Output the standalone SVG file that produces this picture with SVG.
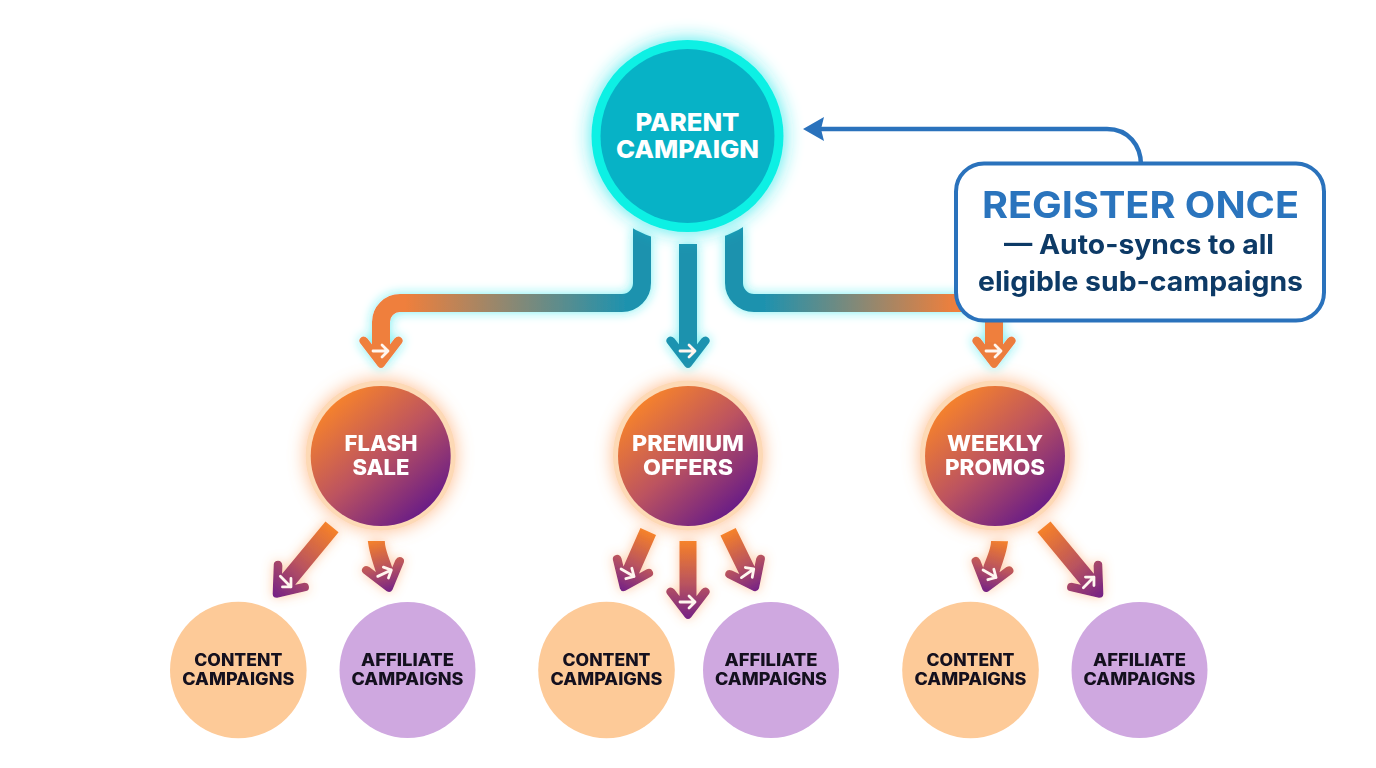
<svg xmlns="http://www.w3.org/2000/svg" xmlns:xlink="http://www.w3.org/1999/xlink" width="1376" height="768" viewBox="0 0 1376 768">
<defs>
<style>
text{font-family:"Inter","Liberation Sans",sans-serif;font-weight:800;text-anchor:middle}
.w{fill:#fff}.k{fill:#14101e}
.p{font-size:25px}.s{font-size:22px}.l{font-size:17px}
.c{font-weight:700}.n{fill:#0d3a66;font-size:27px}
.sh{fill:none;stroke-width:18}
.g{fill:none;stroke:#fff6ef;stroke-width:2.8;stroke-linecap:round;stroke-linejoin:round}
.low{fill:url(#low)}
.o{fill:#fdca98}.v{fill:#cfa8e0}
</style>
<linearGradient id="low" x1="0" y1="0" x2="0" y2="1"><stop offset="0" stop-color="#f68128"/><stop offset=".55" stop-color="#b9535f"/><stop offset="1" stop-color="#742186"/></linearGradient>
<linearGradient id="sub" x1=".15" y1=".1" x2=".85" y2=".9"><stop offset="0" stop-color="#f8842a"/><stop offset=".5" stop-color="#bc5360"/><stop offset="1" stop-color="#661a88"/></linearGradient>
<linearGradient id="gl" gradientUnits="userSpaceOnUse" x1="405" y1="0" x2="625" y2="0"><stop offset="0" stop-color="#ef7f3c"/><stop offset="1" stop-color="#1f92ae"/></linearGradient>
<linearGradient id="gr" gradientUnits="userSpaceOnUse" x1="765" y1="0" x2="955" y2="0"><stop offset="0" stop-color="#1f92ae"/><stop offset="1" stop-color="#ef7f3c"/></linearGradient>
<clipPath id="cut"><path clip-rule="evenodd" d="M0,0H1376V768H0Z M580,136a107,107 0 1,0 214,0a107,107 0 1,0 -214,0Z"/></clipPath>
<filter id="cy" filterUnits="userSpaceOnUse" x="0" y="0" width="1376" height="768"><feGaussianBlur in="SourceAlpha" stdDeviation="6"/><feComponentTransfer result="b"><feFuncA type="linear" slope=".62"/></feComponentTransfer><feFlood flood-color="#22e6ea"/><feComposite in2="b" operator="in"/><feMerge><feMergeNode/><feMergeNode in="SourceGraphic"/></feMerge></filter>
<filter id="cy2" filterUnits="userSpaceOnUse" x="0" y="0" width="1376" height="768"><feGaussianBlur in="SourceAlpha" stdDeviation="10"/><feComponentTransfer result="b"><feFuncA type="linear" slope=".85"/></feComponentTransfer><feFlood flood-color="#22e6ea"/><feComposite in2="b" operator="in"/><feMerge><feMergeNode/><feMergeNode in="SourceGraphic"/></feMerge></filter>
<filter id="or" filterUnits="userSpaceOnUse" x="0" y="0" width="1376" height="768"><feGaussianBlur in="SourceAlpha" stdDeviation="6"/><feComponentTransfer result="b"><feFuncA type="linear" slope=".5"/></feComponentTransfer><feFlood flood-color="#ff9a50"/><feComposite in2="b" operator="in"/><feMerge><feMergeNode/><feMergeNode in="SourceGraphic"/></feMerge></filter>
<filter id="or2" filterUnits="userSpaceOnUse" x="0" y="0" width="1376" height="768"><feGaussianBlur in="SourceAlpha" stdDeviation="9"/><feComponentTransfer result="b"><feFuncA type="linear" slope=".75"/></feComponentTransfer><feFlood flood-color="#ffa566"/><feComposite in2="b" operator="in"/><feMerge><feMergeNode/><feMergeNode in="SourceGraphic"/></feMerge></filter>
<path id="head" d="M-8.5,-26H8.5V-23L13.500,-29.500Q17,-33 20,-30.500Q23,-28 21,-25L3,-1.500Q0,1.500 -3,-1.500L-21,-25Q-23,-28 -20,-30.500Q-17,-33 -13.500,-29.500L-8.5,-23Z"/>
<path id="gly" d="M-8,0H7M1,-6L7,0L1,6"/>
</defs>
<rect width="1376" height="768" fill="#fff"/>
<g id="connectors">
<g filter="url(#cy)">
<g clip-path="url(#cut)">
<path class="sh" stroke="url(#gl)" d="M642,220V283A20,20 0 0 1 622,303H400A19,19 0 0 0 381,322V345"/>
<path class="sh" stroke="url(#gr)" d="M734,220V283A20,20 0 0 0 754,303H975A19,19 0 0 1 994,322V345"/>
</g>
<path class="sh" stroke="#1f92ae" d="M688,244V345"/>
<use xlink:href="#head" href="#head" fill="#ef7f3c" transform="translate(381,368)"/>
<use xlink:href="#head" href="#head" fill="#1f93b0" transform="translate(688,368)"/>
<use xlink:href="#head" href="#head" fill="#ec7d3c" transform="translate(994,368)"/>
</g>
<use class="g" xlink:href="#gly" href="#gly" transform="translate(381,351)"/>
<use class="g" xlink:href="#gly" href="#gly" transform="translate(688,351)"/>
<use class="g" xlink:href="#gly" href="#gly" transform="translate(994,351)"/>
<g filter="url(#or)">
<path class="low" transform="translate(274,597) rotate(39.6)" d="M-8.5,-91H8.5V-23L13.500,-29.500Q17,-33 20,-30.500Q23,-28 21,-25L3,-1.500Q0,1.500 -3,-1.500L-21,-25Q-23,-28 -20,-30.500Q-17,-33 -13.500,-29.500L-8.5,-23Z"/>
<path class="low" transform="translate(390,592) rotate(-15)" d="M-8.2,-55.1L8.2,-50.7C6,-42 8.5,-30 8.5,-23L13.500,-29.500Q17,-33 20,-30.500Q23,-28 21,-25L3,-1.500Q0,1.500 -3,-1.500L-21,-25Q-23,-28 -20,-30.500Q-17,-33 -13.500,-29.500L-8.5,-23C-8.5,-30 -10,-42 -8.2,-55.1Z"/>
<path class="low" transform="translate(622,591) rotate(23.8)" d="M-8.5,-65H8.5V-23L13.500,-29.500Q17,-33 20,-30.500Q23,-28 21,-25L3,-1.500Q0,1.500 -3,-1.500L-21,-25Q-23,-28 -20,-30.500Q-17,-33 -13.500,-29.500L-8.5,-23Z"/>
<path class="low" transform="translate(688,619)" d="M-8.5,-78H8.5V-23L13.500,-29.500Q17,-33 20,-30.500Q23,-28 21,-25L3,-1.500Q0,1.500 -3,-1.500L-21,-25Q-23,-28 -20,-30.500Q-17,-33 -13.500,-29.500L-8.5,-23Z"/>
<path class="low" transform="translate(757,591) rotate(-26)" d="M-8.5,-66H8.5V-23L13.500,-29.500Q17,-33 20,-30.500Q23,-28 21,-25L3,-1.500Q0,1.500 -3,-1.500L-21,-25Q-23,-28 -20,-30.500Q-17,-33 -13.500,-29.500L-8.5,-23Z"/>
<path class="low" transform="translate(985,592) rotate(16)" d="M-8.2,-50.7L8.2,-55.1C10,-42 8.5,-30 8.5,-23L13.500,-29.500Q17,-33 20,-30.500Q23,-28 21,-25L3,-1.500Q0,1.500 -3,-1.500L-21,-25Q-23,-28 -20,-30.500Q-17,-33 -13.500,-29.500L-8.5,-23C-8.5,-30 -6,-42 -8.2,-50.7Z"/>
<path class="low" transform="translate(1102,597) rotate(-39.6)" d="M-8.5,-91H8.5V-23L13.500,-29.500Q17,-33 20,-30.500Q23,-28 21,-25L3,-1.500Q0,1.500 -3,-1.500L-21,-25Q-23,-28 -20,-30.500Q-17,-33 -13.500,-29.500L-8.5,-23Z"/>
</g>
<use class="g" xlink:href="#gly" href="#gly" transform="translate(286,582) rotate(45)"/>
<use class="g" xlink:href="#gly" href="#gly" transform="translate(385,573) rotate(-25)"/>
<use class="g" xlink:href="#gly" href="#gly" transform="translate(628,573) rotate(30)"/>
<use class="g" xlink:href="#gly" href="#gly" transform="translate(688,602)"/>
<use class="g" xlink:href="#gly" href="#gly" transform="translate(748,573) rotate(-35)"/>
<use class="g" xlink:href="#gly" href="#gly" transform="translate(990,574) rotate(30)"/>
<use class="g" xlink:href="#gly" href="#gly" transform="translate(1089,582) rotate(-45)"/>
<path fill="none" stroke="#2a72bc" stroke-width="4.500" d="M1141,165C1141,145 1128,129 1107,129H820"/>
<path fill="#2a72bc" d="M803,129L824,117L821,129L824,141Z"/>
</g>
<g id="parent-campaign">
<circle cx="687.5" cy="136" r="96" fill="#10f0e4" filter="url(#cy2)"/>
<circle cx="687.5" cy="136" r="87" fill="#07b2c6"/>
<text class="w p" x="687.5" y="131" textLength="104" lengthAdjust="spacingAndGlyphs">PARENT</text>
<text class="w p" x="687.5" y="158" textLength="143" lengthAdjust="spacingAndGlyphs">CAMPAIGN</text>
</g>
<g id="flash-sale">
<circle cx="380.7" cy="455.5" r="75" fill="#fdd9b5" filter="url(#or2)"/>
<circle cx="380.7" cy="456" r="70" fill="url(#sub)"/>
<text class="w s" x="381" y="451" textLength="73" lengthAdjust="spacingAndGlyphs">FLASH</text>
<text class="w s" x="381" y="475" textLength="57" lengthAdjust="spacingAndGlyphs">SALE</text>
</g>
<g id="premium-offers">
<circle cx="688" cy="455.5" r="75" fill="#fdd9b5" filter="url(#or2)"/>
<circle cx="688" cy="456" r="70" fill="url(#sub)"/>
<text class="w s" x="688" y="451" textLength="112" lengthAdjust="spacingAndGlyphs">PREMIUM</text>
<text class="w s" x="688" y="475" textLength="90" lengthAdjust="spacingAndGlyphs">OFFERS</text>
</g>
<g id="weekly-promos">
<circle cx="995" cy="455.5" r="75" fill="#fdd9b5" filter="url(#or2)"/>
<circle cx="995" cy="456" r="70" fill="url(#sub)"/>
<text class="w s" x="995" y="451" textLength="96" lengthAdjust="spacingAndGlyphs">WEEKLY</text>
<text class="w s" x="995" y="475" textLength="100" lengthAdjust="spacingAndGlyphs">PROMOS</text>
</g>
<g id="content-1"><circle class="o" cx="238.3" cy="670" r="68.3"/><text class="k l" x="238.3" y="666" textLength="88" lengthAdjust="spacingAndGlyphs">CONTENT</text><text class="k l" x="238.3" y="685" textLength="112" lengthAdjust="spacingAndGlyphs">CAMPAIGNS</text></g>
<g id="affiliate-1"><circle class="v" cx="407.5" cy="670" r="68"/><text class="k l" x="407.5" y="666" textLength="93" lengthAdjust="spacingAndGlyphs">AFFILIATE</text><text class="k l" x="407.5" y="685" textLength="112" lengthAdjust="spacingAndGlyphs">CAMPAIGNS</text></g>
<g id="content-2"><circle class="o" cx="606.5" cy="670" r="68.3"/><text class="k l" x="606.5" y="666" textLength="88" lengthAdjust="spacingAndGlyphs">CONTENT</text><text class="k l" x="606.5" y="685" textLength="112" lengthAdjust="spacingAndGlyphs">CAMPAIGNS</text></g>
<g id="affiliate-2"><circle class="v" cx="771" cy="670" r="68"/><text class="k l" x="771" y="666" textLength="93" lengthAdjust="spacingAndGlyphs">AFFILIATE</text><text class="k l" x="771" y="685" textLength="112" lengthAdjust="spacingAndGlyphs">CAMPAIGNS</text></g>
<g id="content-3"><circle class="o" cx="970.5" cy="670" r="68.3"/><text class="k l" x="970.5" y="666" textLength="88" lengthAdjust="spacingAndGlyphs">CONTENT</text><text class="k l" x="970.5" y="685" textLength="112" lengthAdjust="spacingAndGlyphs">CAMPAIGNS</text></g>
<g id="affiliate-3"><circle class="v" cx="1139.5" cy="670" r="68"/><text class="k l" x="1139.5" y="666" textLength="93" lengthAdjust="spacingAndGlyphs">AFFILIATE</text><text class="k l" x="1139.5" y="685" textLength="112" lengthAdjust="spacingAndGlyphs">CAMPAIGNS</text></g>
<g id="register-once">
<rect x="956" y="163.500" width="368" height="157" rx="28" fill="#fff" stroke="#2a72bc" stroke-width="4"/>
<text class="c" x="1140.500" y="218" font-size="37" fill="#2a74bd" textLength="317" lengthAdjust="spacingAndGlyphs">REGISTER ONCE</text>
<text class="c n" x="1139" y="254" textLength="270" lengthAdjust="spacingAndGlyphs">— Auto-syncs to all</text>
<text class="c n" x="1140.500" y="291" textLength="325" lengthAdjust="spacingAndGlyphs">eligible sub-campaigns</text>
</g>
</svg>
